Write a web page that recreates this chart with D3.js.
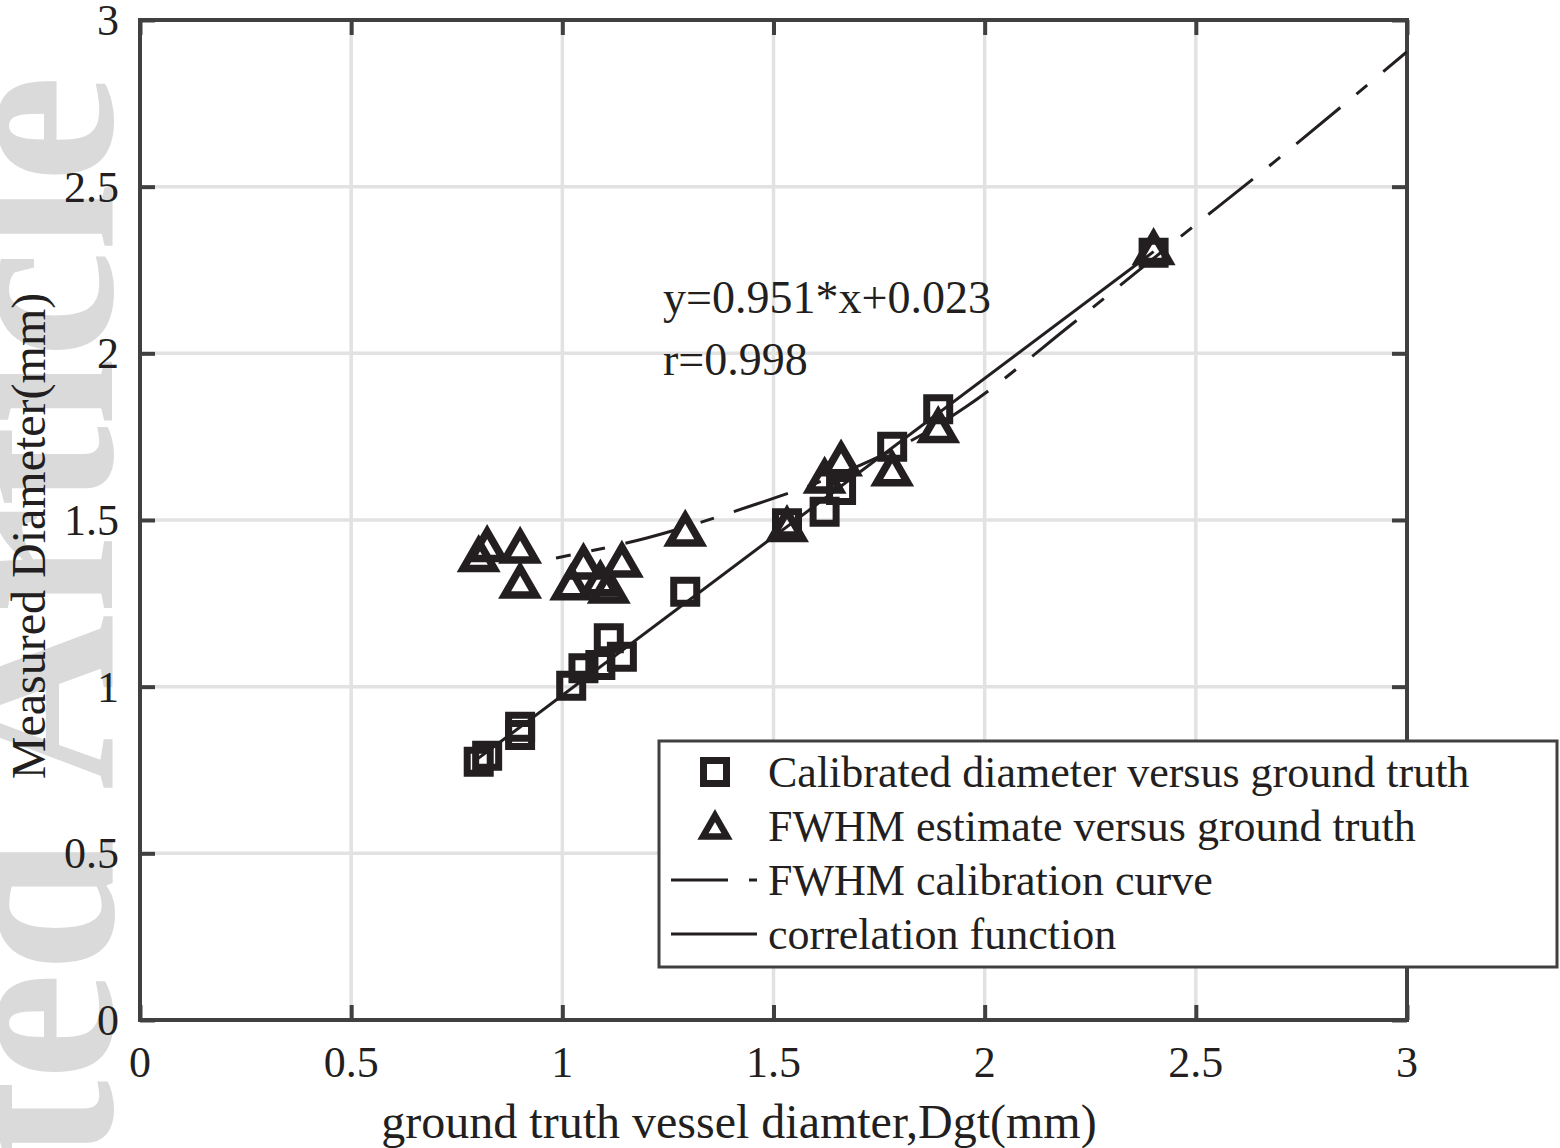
<!DOCTYPE html>
<html><head><meta charset="utf-8">
<script src="https://d3js.org/d3.v7.min.js"></script>
<style>body{margin:0;background:#fff}svg{display:block}</style>
</head><body>
<script>
// ---- data ----
const truthX   = [0.802, 0.822, 0.90, 0.90, 1.021, 1.050, 1.090, 1.110, 1.141, 1.291, 1.532, 1.621, 1.660, 1.781, 1.890, 2.40];
const calibY   = [0.775, 0.793, 0.880, 0.855, 1.003, 1.055, 1.065, 1.145, 1.090, 1.285, 1.490, 1.525, 1.590, 1.720, 1.832, 2.302];
const fwhmY    = [1.395, 1.425, 1.420, 1.315, 1.310, 1.372, 1.322, 1.300, 1.378, 1.471, 1.485, 1.630, 1.682, 1.652, 1.782, 2.316];
const curveX   = [0.985, 1.20, 1.46, 1.60, 1.75, 1.85, 1.955, 2.21, 2.45, 2.70, 3.00];
const curveY   = [1.386, 1.446, 1.548, 1.610, 1.690, 1.755, 1.839, 2.091, 2.336, 2.589, 2.905];
const corrX    = [0.80, 2.40];
const corrY    = [0.784, 2.305];
const xTicks   = [0, 0.5, 1, 1.5, 2, 2.5, 3];
const yTicks   = [0, 0.5, 1, 1.5, 2, 2.5, 3];
const legendLabels = ["Calibrated diameter versus ground truth", "FWHM estimate versus ground truth", "FWHM calibration curve", "correlation function"];
const annotation = ["y=0.951*x+0.023", "r=0.998"];

const W = 1560, H = 1148;
const L = 140, R = 1407, T = 20, B = 1020;
const ink = "#231f20", axisC = "#404040", gridC = "#e2e2e2";
const FONT = "'Liberation Serif','Times New Roman',serif";

const svg = d3.select("body").append("svg").attr("width", W).attr("height", H);
const x = d3.scaleLinear().domain([0, 3]).range([L, R]);
const y = d3.scaleLinear().domain([0, 3]).range([B, T]);

// watermark
svg.append("text")
  .attr("transform", "translate(112,75) rotate(-90)")
  .attr("text-anchor", "end")
  .attr("font-family", FONT).attr("font-weight", "bold")
  .attr("font-size", 243).attr("fill", "#dadada")
  .text("Accepted Article");

// grid
const g = svg.append("g");
g.selectAll(".gx").data(xTicks.slice(1, -1)).join("line")
  .attr("x1", d => x(d)).attr("x2", d => x(d)).attr("y1", T).attr("y2", B)
  .attr("stroke", gridC).attr("stroke-width", 3.5);
g.selectAll(".gy").data(yTicks.slice(1, -1)).join("line")
  .attr("y1", d => y(d)).attr("y2", d => y(d)).attr("x1", L).attr("x2", R)
  .attr("stroke", gridC).attr("stroke-width", 3.5);

// axes (inward ticks on all sides)
const tl = 15;
const axB = d3.axisTop(x).tickValues(xTicks).tickSize(tl).tickFormat(() => "");
const axT = d3.axisBottom(x).tickValues(xTicks).tickSize(tl).tickFormat(() => "");
const axLft = d3.axisRight(y).tickValues(yTicks).tickSize(tl).tickFormat(() => "");
const axRgt = d3.axisLeft(y).tickValues(yTicks).tickSize(tl).tickFormat(() => "");
function styleAx(sel) {
  sel.selectAll("path").remove();
  sel.selectAll("line").attr("stroke", axisC).attr("stroke-width", 4);
}
svg.append("g").attr("transform", `translate(0,${B})`).call(axB).call(styleAx);
svg.append("g").attr("transform", `translate(0,${T})`).call(axT).call(styleAx);
svg.append("g").attr("transform", `translate(${L},0)`).call(axLft).call(styleAx);
svg.append("g").attr("transform", `translate(${R},0)`).call(axRgt).call(styleAx);
svg.append("rect").attr("x", L).attr("y", T).attr("width", R - L).attr("height", B - T)
  .attr("fill", "none").attr("stroke", axisC).attr("stroke-width", 4);

// tick labels
svg.append("g").selectAll("text").data(xTicks).join("text")
  .attr("x", d => x(d)).attr("y", 1077).attr("text-anchor", "middle")
  .attr("font-family", FONT).attr("font-size", 44).attr("fill", ink)
  .text(d => d3.format("~g")(d));
svg.append("g").selectAll("text").data(yTicks).join("text")
  .attr("x", 119).attr("y", d => y(d)).attr("dy", "0.34em").attr("text-anchor", "end")
  .attr("font-family", FONT).attr("font-size", 44).attr("fill", ink)
  .text(d => d3.format("~g")(d));

// axis labels
svg.append("text").attr("x", 739).attr("y", 1138).attr("text-anchor", "middle")
  .attr("font-family", FONT).attr("font-size", 48).attr("fill", ink)
  .text("ground truth vessel diamter,Dgt(mm)");
svg.append("text").attr("transform", "translate(45,536) rotate(-90)").attr("text-anchor", "middle")
  .attr("font-family", FONT).attr("font-size", 48).attr("fill", ink)
  .text("Measured Diameter(mm)");

// clip
svg.append("clipPath").attr("id", "clip").append("rect")
  .attr("x", L).attr("y", T).attr("width", R - L).attr("height", B - T);
const plot = svg.append("g").attr("clip-path", "url(#clip)");

// lines
const lineGen = d3.line().x(d => x(d[0])).y(d => y(d[1]));
plot.append("path").datum(corrX.map((v, i) => [v, corrY[i]]))
  .attr("d", lineGen).attr("fill", "none").attr("stroke", ink).attr("stroke-width", 3);
plot.append("path").datum(curveX.map((v, i) => [v, curveY[i]]))
  .attr("d", lineGen.curve(d3.curveMonotoneX)).attr("fill", "none").attr("stroke", ink)
  .attr("stroke-width", 3).attr("stroke-dasharray", "57,21,14,21").attr("stroke-dashoffset", 42);

// markers
function tri(s) { const h = s * Math.sqrt(3) / 2; return `M0,${-h/2}L${s/2},${h/2}L${-s/2},${h/2}Z`; }
plot.append("g").selectAll("path").data(truthX.map((v, i) => [v, calibY[i]])).join("path")
  .attr("transform", d => `translate(${x(d[0])},${y(d[1])})`)
  .attr("d", "M-11.5,-11.5H11.5V11.5H-11.5Z")
  .attr("fill", "none").attr("stroke", ink).attr("stroke-width", 7).attr("stroke-linejoin", "miter");
plot.append("g").selectAll("path").data(truthX.map((v, i) => [v, fwhmY[i]])).join("path")
  .attr("transform", d => `translate(${x(d[0])},${y(d[1])})`)
  .attr("d", tri(31))
  .attr("fill", "none").attr("stroke", ink).attr("stroke-width", 7.5).attr("stroke-linejoin", "miter");

// annotation
svg.append("g").selectAll("text").data(annotation).join("text")
  .attr("x", 663).attr("y", (d, i) => 313 + i * 62)
  .attr("font-family", FONT).attr("font-size", 46).attr("fill", ink)
  .text(d => d);

// legend
const lg = svg.append("g");
lg.append("rect").attr("x", 659).attr("y", 741).attr("width", 898).attr("height", 226)
  .attr("fill", "#fff").attr("stroke", axisC).attr("stroke-width", 3);
const rowY = [772, 826, 880, 934];
lg.append("path").attr("transform", `translate(715,${rowY[0]})`).attr("d", "M-11.5,-11.5H11.5V11.5H-11.5Z")
  .attr("fill", "none").attr("stroke", ink).attr("stroke-width", 7);
lg.append("path").attr("transform", `translate(715,${rowY[1]})`).attr("d", tri(24))
  .attr("fill", "none").attr("stroke", ink).attr("stroke-width", 6.5);
lg.append("line").attr("x1", 671).attr("x2", 757).attr("y1", rowY[2]).attr("y2", rowY[2])
  .attr("stroke", ink).attr("stroke-width", 3).attr("stroke-dasharray", "57,21,14,21");
lg.append("line").attr("x1", 671).attr("x2", 757).attr("y1", rowY[3]).attr("y2", rowY[3])
  .attr("stroke", ink).attr("stroke-width", 3);
lg.selectAll(".lt").data(legendLabels).join("text")
  .attr("x", 768).attr("y", (d, i) => rowY[i]).attr("dy", "0.34em")
  .attr("font-family", FONT).attr("font-size", 44).attr("fill", ink)
  .text(d => d);
</script>
</body></html>
